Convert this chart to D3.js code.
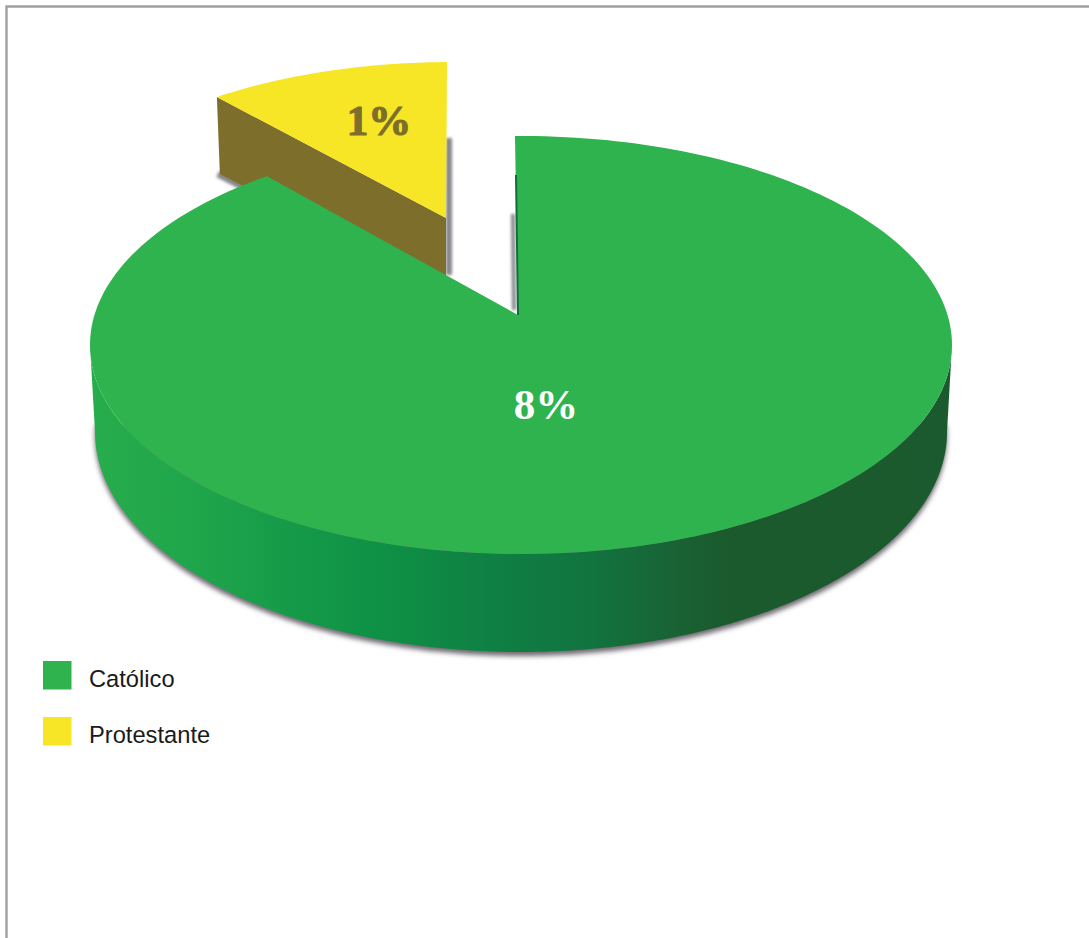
<!DOCTYPE html>
<html>
<head>
<meta charset="utf-8">
<script src="https://cdn.jsdelivr.net/npm/d3@7"></script>
<style>
html,body{margin:0;padding:0;background:#fff;overflow:hidden}
svg{display:block}
</style>
</head>
<body>
<div id="chart"></div>
<script>
// Data
const categories = ["Católico", "Protestante"];
const sliceValues = [8, 0.87];
const valueLabels = ["8%", "1%"];
const sliceColors = ["#2fb34e", "#f6e626"];
const labelColors = ["#ffffff", "#7d6f2b"];
const labelAnchors = [[546, 419], [379, 135]];

// Layout
const W = 1089, H = 938;
const topFace = {cx: 521, cy: 345, rx: 431, ry: 209};
const baseFace = {cx: 521, cy: 432, rx: 426, ry: 220};
const yellowFace = {cx: 452.6, cy: 244, rx: 400, ry: 182};
const greenApex = [518, 315];
const yellowApex = [446, 218];
const wallDepth = 54;
const rot = -0.8 * Math.PI / 180;

const svg = d3.select("#chart").append("svg").attr("width", W).attr("height", H);
const defs = svg.append("defs");
[["blur3", 2.6], ["blur2", 1.8]].forEach(([id, s]) => {
  defs.append("filter").attr("id", id)
    .attr("filterUnits", "userSpaceOnUse")
    .attr("x", 0).attr("y", 0).attr("width", W).attr("height", H)
    .append("feGaussianBlur").attr("stdDeviation", s);
});
const grad = defs.append("linearGradient").attr("id", "wall")
  .attr("gradientUnits", "userSpaceOnUse")
  .attr("x1", 91).attr("x2", 951).attr("y1", 0).attr("y2", 0);
[[0, "#28ad4c"], [0.12, "#1fa64b"], [0.24, "#149a48"], [0.36, "#0e8e45"], [0.47, "#0f7f43"],
 [0.58, "#11743f"], [0.68, "#196234"], [0.74, "#1b5a2d"], [1, "#1a5a2e"]]
  .forEach(([o, c]) => grad.append("stop").attr("offset", o).attr("stop-color", c));

// Border
svg.append("path").attr("d", `M${W},6.5H6.5V${H}`).attr("fill", "none")
  .attr("stroke", "#a0a0a0").attr("stroke-width", 2.4);

// Pie angles through d3.pie
const pie = d3.pie().sort(null).startAngle(rot).endAngle(rot + 2 * Math.PI);
const arcs = pie(sliceValues);
const green = arcs[0], yellow = arcs[1];

const onEllipse = (e, a) => [e.cx + e.rx * Math.sin(a), e.cy - e.ry * Math.cos(a)];
const sample = (e, a0, a1, n = 240) =>
  d3.range(n + 1).map(i => onEllipse(e, a0 + (a1 - a0) * i / n));
const line = d3.line();

// Yellow slice (exploded), angles wrap so that it ends at the top
const yA0 = yellow.startAngle - 2 * Math.PI, yA1 = yellow.endAngle - 2 * Math.PI;
const yLeft = onEllipse(yellowFace, yA0);

// Yellow shadows
svg.append("path")
  .attr("d", line([[yellowApex[0] + 3, 138], [yellowApex[0] + 3, 275]]))
  .attr("stroke", "#85858c").attr("stroke-width", 6).attr("fill", "none").attr("filter", "url(#blur2)");
svg.append("path")
  .attr("d", line([[yLeft[0] + 1, yLeft[1] + 77], [yLeft[0] + 30, yLeft[1] + 92]]))
  .attr("stroke", "#85858a").attr("stroke-width", 7).attr("fill", "none").attr("filter", "url(#blur2)");

// Yellow wall and top
svg.append("path")
  .attr("d", line([yLeft, yellowApex, [yellowApex[0], yellowApex[1] + wallDepth + 20],
                   [yLeft[0] + 3, yLeft[1] + 77]]) + "Z")
  .attr("fill", "#7d6f2b");
svg.append("path")
  .attr("d", line([yellowApex, ...sample(yellowFace, yA0, yA1, 80)]) + "Z")
  .attr("fill", sliceColors[1]);

// Notch shadow
svg.append("path")
  .attr("d", line([[513, 214], [514, 310]]))
  .attr("stroke", "#85858c").attr("stroke-width", 4).attr("fill", "none").attr("filter", "url(#blur2)");

// Green body shadow
svg.append("path")
  .attr("d", line(sample(baseFace, Math.PI / 2 - 0.05, Math.PI * 1.5 + 0.05)) + "Z")
  .attr("transform", "translate(0,4)")
  .attr("fill", "#6f6a72").attr("filter", "url(#blur3)");

// Green outer wall
svg.append("path")
  .attr("d", line([...sample(topFace, Math.PI / 2, Math.PI * 1.5),
                   ...sample(baseFace, Math.PI * 1.5, Math.PI / 2)]) + "Z")
  .attr("fill", "url(#wall)");

// Green top
svg.append("path")
  .attr("d", line([greenApex, ...sample(topFace, green.startAngle, green.endAngle)]) + "Z")
  .attr("fill", sliceColors[0]);

// Green cut wall (thin dark edge)
svg.append("path")
  .attr("d", line([[516, 175], [518, greenApex[1]]]))
  .attr("stroke", "#0f6f3b").attr("stroke-width", 2).attr("fill", "none");

// Value labels
svg.selectAll("text.value").data(valueLabels).join("text")
  .attr("class", "value")
  .attr("x", (d, i) => labelAnchors[i][0])
  .attr("y", (d, i) => labelAnchors[i][1])
  .attr("text-anchor", "middle")
  .attr("font-family", "'Liberation Serif', serif")
  .attr("font-weight", "bold")
  .attr("font-size", 43)
  .attr("fill", (d, i) => labelColors[i])
  .attr("stroke", (d, i) => labelColors[i])
  .attr("stroke-width", (d, i) => i === 1 ? 1.2 : 0)
  .text(d => d);

// Legend
const legendY = d3.scalePoint().domain(categories).range([661, 717]);
const legend = svg.selectAll("g.legend").data(categories).join("g")
  .attr("class", "legend")
  .attr("transform", d => `translate(43,${legendY(d)})`);
legend.append("rect").attr("width", 28.5).attr("height", 28.5)
  .attr("fill", (d, i) => sliceColors[i]);
legend.append("text").attr("x", 46).attr("y", 26)
  .attr("font-family", "'Liberation Sans', Arial, sans-serif")
  .attr("font-size", 23.7).attr("fill", "#1a1a1a")
  .text(d => d);
</script>
</body>
</html>
